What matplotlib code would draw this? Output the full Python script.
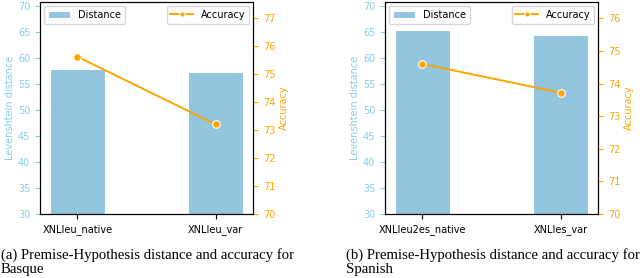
import matplotlib
matplotlib.use("Agg")
import matplotlib.pyplot as plt
import numpy as np

cats_a = ["XNLIeu_native", "XNLIeu_var"]
dist_a = [58.0, 57.3]
acc_a = [75.62, 73.2]

cats_b = ["XNLIeu2es_native", "XNLIes_var"]
dist_b = [65.5, 64.5]
acc_b = [74.6, 73.72]

captions = ["(a) Premise-Hypothesis distance and accuracy for\nBasque",
            "(b) Premise-Hypothesis distance and accuracy for\nSpanish"]

bar_color = "#92C5DE"
blue_txt = "#87CEEB"
orange = "#FFA500"

fig = plt.figure(figsize=(6.4, 2.78), dpi=100)
W, H = 640, 278
FS = 7

def make_panel(x0, cats, dist, acc, acc_lim, acc_ticks, caption, cap_x):
    ax = fig.add_axes([x0 / W, 1 - 214 / H, 213 / W, 212 / H])
    x = np.arange(len(cats))
    ax.bar(x, dist, width=0.4, color=bar_color, edgecolor="white", linewidth=0.8, label="Distance")
    ax.set_ylim(30, 70.8)
    ax.set_yticks(np.arange(30, 71, 5))
    ax.set_xticks(x)
    ax.set_xticklabels(cats, fontsize=FS)
    ax.tick_params(axis="y", colors=blue_txt, labelsize=FS)
    ax.tick_params(axis="x", labelsize=FS)
    ax.set_ylabel("Levenshtein distance", color=blue_txt, fontsize=FS, labelpad=2)
    ax.margins(x=0.05)
    ax2 = ax.twinx()
    ax2.plot(x, acc, color=orange, lw=1.4, marker="o", markersize=5.5,
             markeredgecolor="white", markeredgewidth=0.8, label="Accuracy")
    ax2.set_ylim(*acc_lim)
    ax2.set_yticks(acc_ticks)
    ax2.tick_params(axis="y", colors=orange, labelsize=FS)
    ax2.set_ylabel("Accuracy", color=orange, fontsize=FS, labelpad=3)
    for a in (ax, ax2):
        for s in a.spines.values():
            s.set_color("black")
    ax.legend(loc="upper left", fontsize=FS, handlelength=2.3, borderaxespad=0.4)
    ax2.legend(loc="upper right", fontsize=FS, handlelength=2.3, borderaxespad=0.4, markerscale=0.7)
    fig.text(cap_x / W, 1 - 248 / H, caption, ha="left", va="top",
             family="Liberation Serif", fontsize=10.6, linespacing=1.12)

make_panel(40, cats_a, dist_a, acc_a, (70, 77.57), np.arange(70, 78, 1), captions[0], 1)
make_panel(385, cats_b, dist_b, acc_b, (70, 76.5), np.arange(70, 77, 1), captions[1], 346)

fig.savefig("out.png", dpi=100)
